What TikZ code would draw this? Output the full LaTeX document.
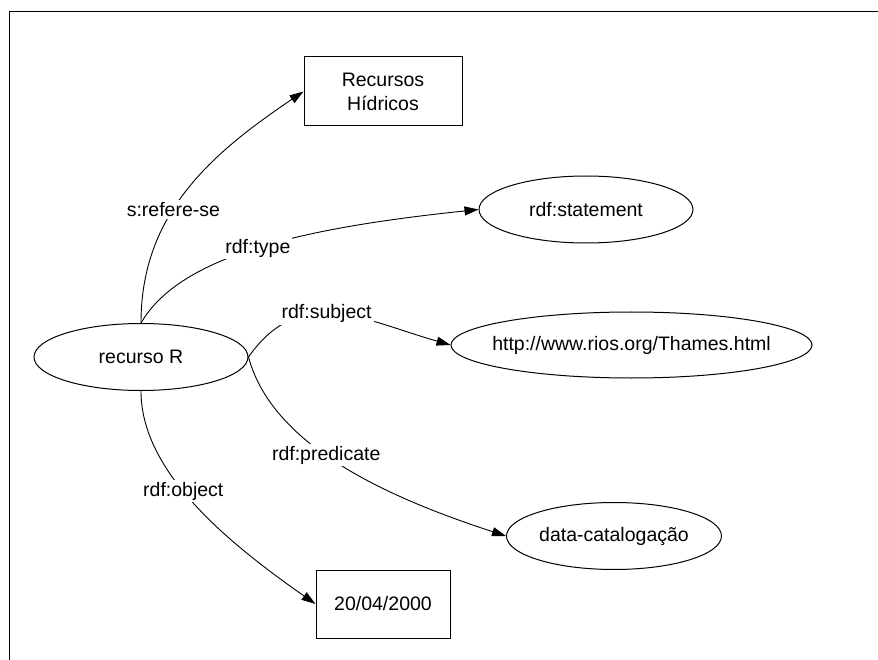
\documentclass[tikz,border=0pt]{standalone}
\usepackage{fontspec}
\setmainfont{Liberation Sans}
\usetikzlibrary{arrows.meta,shapes.geometric}

\begin{document}
\begin{tikzpicture}[x=1pt,y=1pt,
  every node/.style={font=\fontsize{19.5}{24}\selectfont, inner sep=0pt},
  resnode/.style={draw, ellipse, line width=1pt, minimum height=67pt},
  litnode/.style={draw, rectangle, line width=1pt, align=center},
  prop/.style={line width=0.9pt, -{Triangle[length=14pt,width=9pt]}},
  proplabel/.style={fill=white, inner sep=2pt}]

  % page extent and the partial frame
  \useasboundingbox (0,0) rectangle (878,-660);
  \draw[line width=1.8pt] (878,-11.5) -- (9.5,-11.5) -- (9.5,-660);

  % resources and literals
  \node[resnode, minimum width=214pt] (r)  at (141,-357) {recurso R};
  \node[litnode, minimum width=158pt, minimum height=69pt] (rh) at (383,-91.5) {Recursos\\Hídricos};
  \node[resnode, minimum width=214pt] (st) at (586,-209.5) {rdf:statement};
  \node[resnode, minimum width=361pt, minimum height=66pt, inner xsep=-30pt, inner ysep=-20pt] (th) at (631.5,-345) {http://www.rios.org/Thames.html};
  \node[resnode, minimum width=215pt] (dc) at (614,-536) {data-catalogação};
  \node[litnode, minimum width=134pt, minimum height=68pt] (dt) at (383,-604) {20/04/2000};

  % properties of the reified statement
  \draw[prop] (r.north) .. controls +(90:110) and +(214:110) .. (rh.west)
    node[proplabel, pos=0.41] {s:refere-se};
  \draw[prop] (r.north) .. controls +(60:80) and +(186:170) .. (st.west)
    node[proplabel, pos=0.49] {rdf:type};
  \draw[prop] (r.east) .. controls +(55:90) and +(164:90) .. (th.west)
    node[proplabel, pos=0.45] {rdf:subject};
  \draw[prop] (r.east) .. controls +(-75:90) and +(162:130) .. (dc.west)
    node[proplabel, pos=0.45] {rdf:predicate};
  \draw[prop] (r.south) .. controls +(-90:80) and +(145:110) .. (dt.west)
    node[proplabel, pos=0.44] {rdf:object};
\end{tikzpicture}
\end{document}
